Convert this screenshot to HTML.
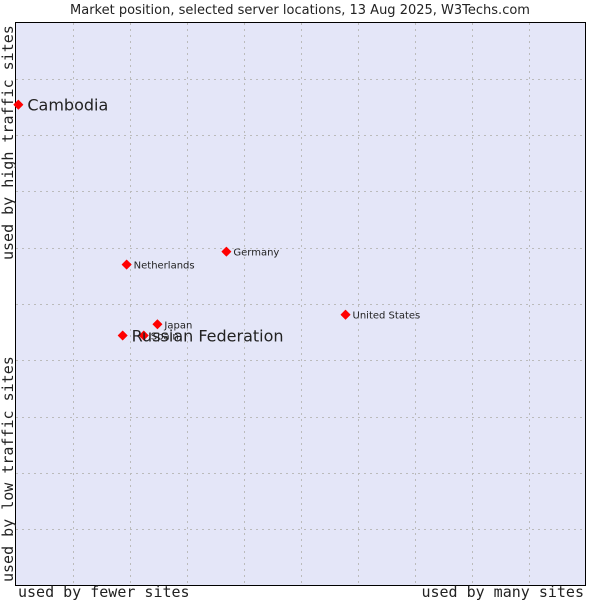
<!DOCTYPE html>
<html><head><meta charset="utf-8"><style>
body{margin:0;background:#fff;width:600px;height:600px;overflow:hidden}
text{fill:#222}
</style></head><body>
<svg id="chart" width="600" height="600" xmlns="http://www.w3.org/2000/svg">
<text x="300" y="14" text-anchor="middle" font-family="DejaVu Sans, sans-serif" font-size="13">Market position, selected server locations, 13 Aug 2025, W3Techs.com</text>
<rect x="15.5" y="22.5" width="570" height="563" fill="#e4e6f8" stroke="#000"/>
<g id="grid"></g>
<text x="18" y="597" font-family="DejaVu Sans Mono, monospace" font-size="15">used by fewer sites</text>
<text x="584" y="597" text-anchor="end" font-family="DejaVu Sans Mono, monospace" font-size="15">used by many sites</text>
<text transform="translate(13,582) rotate(-90)" font-family="DejaVu Sans Mono, monospace" font-size="15">used by low traffic sites</text>
<text transform="translate(13,260) rotate(-90)" font-family="DejaVu Sans Mono, monospace" font-size="15">used by high traffic sites</text>
<g id="points"></g>
</svg>
<script>
const names=["Cambodia","Netherlands","Germany","United States","Japan","Spain","Russian Federation"];
const xValues=[0.5,19.5,37.0,57.9,24.9,22.5,18.8];
const yValues=[85.4,57.0,59.3,48.1,46.4,44.4,44.4];
const highlighted=[true,false,false,false,false,false,true];
const NS="http://www.w3.org/2000/svg";
const X0=15.5,W=570,Y1=585.5,H=563;
const xs=v=>X0+v/100*W, ys=v=>Y1-v/100*H;
const grid=document.getElementById('grid');
for(let i=1;i<10;i++){
 const l=document.createElementNS(NS,'line');
 
 
 const x=Math.round(xs(i*10))+0.5;
 l.setAttribute('x1',x);l.setAttribute('x2',x);l.setAttribute('y1',23);l.setAttribute('y2',585);
 l.setAttribute('stroke','#bbb');l.setAttribute('stroke-dasharray','2,4');grid.appendChild(l);
 const h=document.createElementNS(NS,'line');
 
 
 const y=Math.round(ys(i*10))+0.5;
 h.setAttribute('y1',y);h.setAttribute('y2',y);h.setAttribute('x1',16);h.setAttribute('x2',585);
 h.setAttribute('stroke','#bbb');h.setAttribute('stroke-dasharray','2,4');grid.appendChild(h);
}
const pts=document.getElementById('points');
names.forEach((n,i)=>{
 const x=xs(xValues[i]),y=ys(yValues[i]);
 const p=document.createElementNS(NS,'path');
 
 
 p.setAttribute('d',`M${x-4.5} ${y}L${x} ${y-4.5}L${x+4.5} ${y}L${x} ${y+4.5}Z`);
 p.setAttribute('fill','#f00');p.setAttribute('stroke','#f00');p.setAttribute('stroke-width','0.8');p.setAttribute('stroke-linejoin','round');pts.appendChild(p);
 const t=document.createElementNS(NS,'text');
 
 
 t.setAttribute('x',x+(highlighted[i]?9:7));t.setAttribute('y',y+(highlighted[i]?6:4));
 t.setAttribute('font-family','DejaVu Sans, sans-serif');
 t.setAttribute('font-size',highlighted[i]?'16':'10');
 t.textContent=n;pts.appendChild(t);
});
</script>
</body></html>
